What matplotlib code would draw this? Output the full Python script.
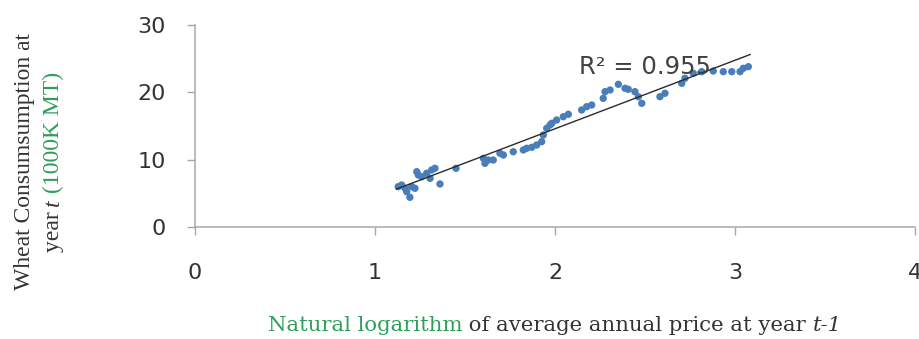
import numpy as np
import matplotlib
matplotlib.use("Agg")
import matplotlib.pyplot as plt
from matplotlib.transforms import IdentityTransform

# ---- data ----
x_vals = [1.129, 1.148, 1.167, 1.176, 1.194, 1.204, 1.222, 1.232, 1.241, 1.259,
          1.287, 1.306, 1.315, 1.333, 1.361, 1.450, 1.602, 1.611, 1.629, 1.657,
          1.694, 1.713, 1.768, 1.824, 1.843, 1.871, 1.898, 1.926, 1.935, 1.954,
          1.972, 1.982, 2.009, 2.046, 2.074, 2.148, 2.176, 2.204, 2.268, 2.278,
          2.306, 2.352, 2.389, 2.407, 2.444, 2.463, 2.482, 2.583, 2.611, 2.704,
          2.722, 2.768, 2.815, 2.879, 2.935, 2.982, 3.028, 3.046, 3.074]
y_vals = [5.99, 6.24, 5.75, 5.24, 4.41, 5.99, 5.75, 8.21, 7.72, 7.47,
          7.98, 7.23, 8.47, 8.72, 6.39, 8.72, 10.20, 9.46, 9.95, 9.95,
          10.95, 10.69, 11.18, 11.44, 11.69, 11.84, 12.18, 12.67, 13.66, 14.66,
          15.15, 15.40, 15.89, 16.38, 16.74, 17.38, 17.87, 18.12, 19.11, 20.10,
          20.35, 21.19, 20.60, 20.45, 20.10, 19.35, 18.37, 19.35, 19.86, 21.34,
          22.09, 22.83, 23.07, 23.17, 23.07, 23.07, 23.07, 23.57, 23.81]
x_ticks = [0, 1, 2, 3, 4]
y_ticks = [0, 10, 20, 30]
r2_label = "R\u00b2 = 0.955"
ylabel_line1 = [("Wheat Consumsumption at", {})]
ylabel_line2 = [("year ", {}), ("t", {"style": "italic"}), (" ", {}),
                ("(1000K MT)", {"color": "#2E9E5B"})]
xlabel_parts = [("Natural logarithm", {"color": "#2E9E5B"}),
                (" of average annual price at year ", {}),
                ("t-1", {"style": "italic"})]

W, H = 919, 339
fig = plt.figure(figsize=(W / 100, H / 100), dpi=100)
ax = fig.add_axes([195 / W, (H - 227) / H, 720 / W, 202 / H])

ax.scatter(x_vals, y_vals, s=28, color="#4A7EBB", edgecolors="none", zorder=3)
coef = np.polyfit(x_vals, y_vals, 1)
xs = np.array([min(x_vals) - 0.01, max(x_vals) + 0.01])
ax.plot(xs, np.polyval(coef, xs), color="#2b2b2b", lw=1.0, zorder=4)

ax.set_xlim(0, 4)
ax.set_ylim(0, 30)
ax.set_xticks(x_ticks)
ax.set_yticks(y_ticks)
for s in ["top", "right"]:
    ax.spines[s].set_visible(False)
for s in ["left", "bottom"]:
    ax.spines[s].set_color("#A8A8A8")
    ax.spines[s].set_linewidth(1.1)
ax.tick_params(axis="both", colors="#A8A8A8", width=1.0, length=6, direction="out")
ax.tick_params(axis="x", pad=20)
ax.tick_params(axis="y", pad=15)
for lab in ax.get_xticklabels() + ax.get_yticklabels():
    lab.set_fontfamily("DejaVu Sans")
    lab.set_fontsize(16)
    lab.set_color("#333333")

ax.text(2.5, 23.7, r2_label, fontsize=17.5, family="DejaVu Sans", color="#404040",
        ha="center", va="center", zorder=5)

# ---- multi-style labels ----
renderer = fig.canvas.get_renderer()


def piece_width(s, props, size, family):
    p = dict({"family": family, "color": "#333333"}, **props)
    t1 = fig.text(0, 0, "|" + s + "|", fontsize=size, **p)
    t2 = fig.text(0, 0, "||", fontsize=size, **p)
    w = t1.get_window_extent(renderer).width - t2.get_window_extent(renderer).width
    t1.remove()
    t2.remove()
    return w


def draw_parts(parts, size, family, cx, cy, rotation=0):
    widths = [piece_width(s, pr, size, family) for s, pr in parts]
    total = sum(widths)
    pos = -total / 2
    for (s, pr), w in zip(parts, widths):
        p = dict({"family": family, "color": "#333333"}, **pr)
        if rotation == 0:
            fig.text(cx + pos, cy, s, fontsize=size, transform=IdentityTransform(),
                     ha="left", va="baseline", **p)
        else:
            fig.text(cx, cy + pos, s, fontsize=size, transform=IdentityTransform(),
                     ha="left", va="baseline", rotation=90,
                     rotation_mode="anchor", **p)
        pos += w


draw_parts(ylabel_line1, 17, "Liberation Serif", 30, H - 162, rotation=90)
draw_parts(ylabel_line2, 17, "Liberation Serif", 59, H - 162, rotation=90)
draw_parts(xlabel_parts, 15.3, "DejaVu Serif", 555, 8)

fig.savefig("out.png", dpi=100)
